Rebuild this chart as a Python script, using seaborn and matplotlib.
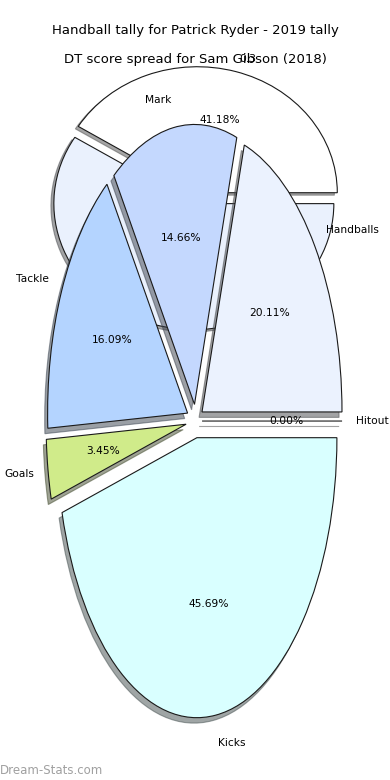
import matplotlib
matplotlib.use("Agg")
import matplotlib.pyplot as plt
import seaborn as sns

# ---- data: background pie (Patrick Ryder handball tally) ----
tally_labels = ["0.3", "0.7"]
tally_values = [7, 10]

# ---- data: foreground pie (Sam Gibson DT score spread, 2018) ----
dt_labels = ["Handballs", "Mark", "Tackle", "Goals", "Kicks", "Hitout"]
dt_values = [70, 51, 56, 12, 159, 0]

# styles
tally_colors = ["#ffffff", "#eaf1fd"]
tally_explode = [0.06, 0.03]
dt_colors = ["#ebf2fe", "#c4d8fe", "#b4d4ff", "#d0eb8a", "#d9ffff", "#e8e8e8"]
dt_explode = [0.055, 0.06, 0.065, 0.07, 0.06, 0.045]

sns.set_theme(style="white")
plt.rcParams["font.family"] = ["DejaVu Sans"]
plt.rcParams["text.color"] = "black"

fig = plt.figure(figsize=(3.9, 7.8), dpi=100)
wedge_style = {"edgecolor": "#1a1a1a", "linewidth": 0.8}
shadow_style = {"ox": -0.015, "oy": -0.014}

# background pie
ax1 = fig.add_axes([0.0513, 0.5417, 0.8974, 0.4038])
ax1.pie(tally_values, labels=tally_labels, colors=tally_colors,
        explode=tally_explode, autopct="%1.2f%%", shadow=shadow_style,
        startangle=0, wedgeprops=wedge_style,
        textprops={"fontsize": 7.7, "color": "black"})
ax1.set_aspect("auto")
ax1.set_title("Handball tally for Patrick Ryder - 2019 tally",
              fontsize=9.5, color="black")

# foreground pie, stretched to the tall axes
ax2 = fig.add_axes([0.0533, 0.0115, 0.8974, 0.8974])
ax2.pie(dt_values, labels=dt_labels, colors=dt_colors,
        explode=dt_explode, autopct="%1.2f%%", shadow=shadow_style,
        startangle=0, wedgeprops=wedge_style,
        textprops={"fontsize": 7.7, "color": "black"})
ax2.set_aspect("auto")
ax2.set_title("DT score spread for Sam Gibson (2018)",
              fontsize=9.5, color="black")

fig.text(0.0, 0.004, "Dream-Stats.com", fontsize=8.5, color="#a0a0a0",
         ha="left", va="bottom")

fig.savefig("out.png", dpi=100)
